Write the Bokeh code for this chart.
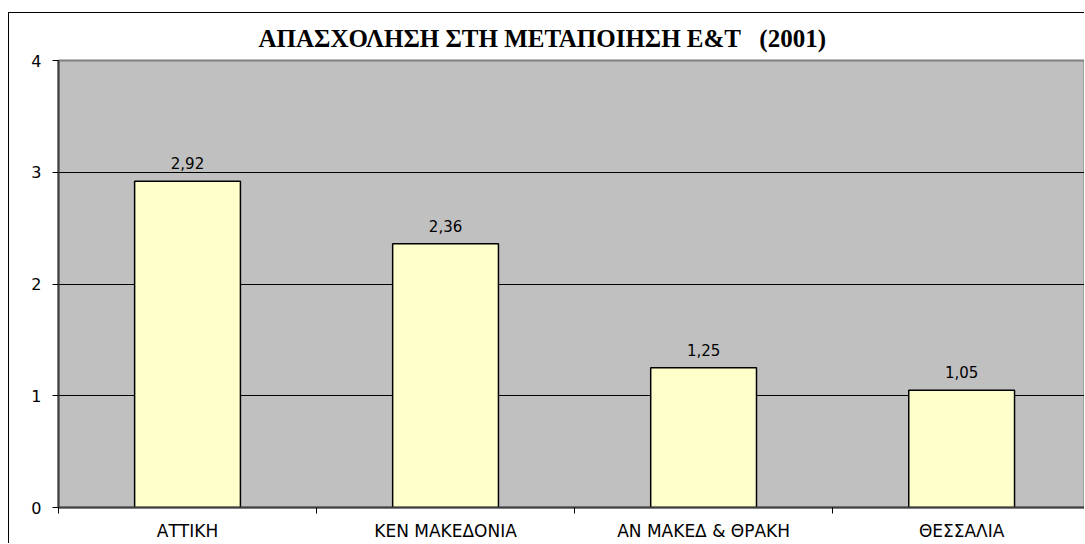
from bokeh.plotting import figure
from bokeh.models import ColumnDataSource, FixedTicker, LabelSet, Range1d
from bokeh.core.properties import value
from bokeh.embed import file_html
from bokeh.resources import INLINE

categories = ["ΑΤΤΙΚΗ", "ΚΕΝ ΜΑΚΕΔΟΝΙΑ", "ΑΝ ΜΑΚΕΔ & ΘΡΑΚΗ", "ΘΕΣΣΑΛΙΑ"]
values = [2.92, 2.36, 1.25, 1.05]
y_ticks = [0, 1, 2, 3, 4]
title_text = "ΑΠΑΣΧΟΛΗΣΗ ΣΤΗ ΜΕΤΑΠΟΙΗΣΗ Ε&Τ \u00a0\u00a0(2001)"

SANS = "'DejaVu Sans'"
SERIF = "'Liberation Serif'"

xs = [i + 0.5 for i in range(len(categories))]
labels = [f"{v:.2f}".replace(".", ",") for v in values]
src = ColumnDataSource(dict(x=xs, top=values, label=labels))

p = figure(width=1076, height=531, output_backend="svg", toolbar_location=None,
           x_range=Range1d(0, 3.98), y_range=Range1d(0, 4),
           min_border_left=49, min_border_right=0, min_border_top=47, min_border_bottom=37,
           background_fill_color="#C0C0C0", border_fill_color="white")
p.styles = {"border-left": "1px solid black", "border-top": "1px solid black",
            "margin-top": "12px", "margin-left": "8px"}

p.title.text = title_text
p.title.align = "left"
p.title.offset = 200
p.title.text_font = SERIF
p.title.text_font_style = "bold"
p.title.text_font_size = "25px"
p.title.text_color = "black"
p.title.standoff = 18

p.outline_line_color = "#808080"
p.outline_line_width = 2

p.vbar(x="x", top="top", width=0.41, source=src, fill_color="#FFFFCC",
       line_color="black", line_width=1.5)

lbl = LabelSet(x="x", y="top", text="label", source=src, text_align="center",
               text_baseline="alphabetic", y_offset=12, text_font=value(SANS),
               text_font_size="15px", text_color="black")
p.add_layout(lbl)

# y axis
p.yaxis.ticker = FixedTicker(ticks=y_ticks)
p.yaxis.axis_line_color = "#404040"
p.yaxis.axis_line_width = 2
p.yaxis.major_tick_in = 0
p.yaxis.major_tick_out = 6
p.yaxis.major_tick_line_color = "black"
p.yaxis.minor_tick_line_color = None
p.yaxis.major_label_standoff = 11
p.yaxis.major_label_text_font = SANS
p.yaxis.major_label_text_font_size = "16px"
p.yaxis.major_label_text_color = "black"

# x axis: labels at centres, ticks at category boundaries
p.xaxis.ticker = FixedTicker(ticks=xs, minor_ticks=list(range(len(categories) + 1)))
p.xaxis.major_label_overrides = {x: c for x, c in zip(xs, categories)}
p.xaxis.axis_line_color = "#404040"
p.xaxis.axis_line_width = 2
p.xaxis.major_tick_in = 0
p.xaxis.major_tick_out = 0
p.xaxis.minor_tick_in = 0
p.xaxis.minor_tick_out = 6
p.xaxis.minor_tick_line_color = "black"
p.xaxis.major_label_standoff = 7
p.xaxis.major_label_text_font = SANS
p.xaxis.major_label_text_font_size = "17px"
p.xaxis.major_label_text_color = "black"

p.xgrid.grid_line_color = None
p.ygrid.ticker = FixedTicker(ticks=y_ticks[1:-1])
p.ygrid.grid_line_color = "black"
p.ygrid.grid_line_width = 1

open("out.html", "w").write(file_html(p, INLINE))
